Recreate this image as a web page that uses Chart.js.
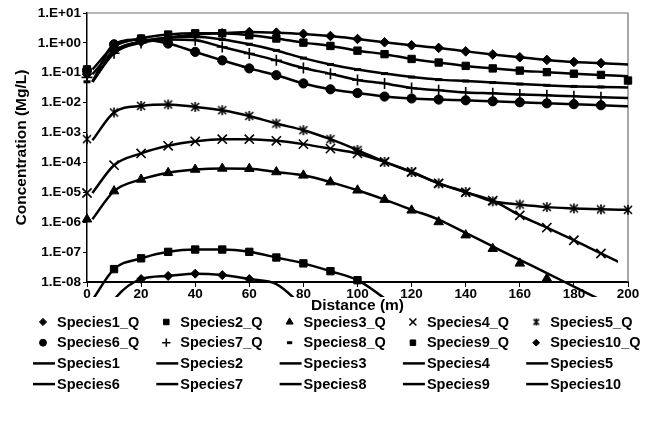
<!DOCTYPE html>
<html lang="en">
<head>
  <meta charset="UTF-8">
  <title>Concentration vs Distance</title>
  <script src="https://cdn.jsdelivr.net/npm/chart.js"></script>
  <style>
    html, body { margin: 0; padding: 0; background: #fff; }
    .wrap { width: 645px; height: 423px; position: relative; }
  </style>
</head>
<body>
  <div class="wrap"><canvas id="chart" width="645" height="423"></canvas></div>

  <script>
    // distances (m) of the measured points and of the model curves
    const distance = [0, 10, 20, 30, 40, 50, 60, 70, 80, 90, 100, 110, 120, 130, 140, 150, 160, 170, 180, 190, 200];
    const modelDistance = [2, 10, 20, 30, 40, 50, 60, 70, 80, 90, 100, 110, 120, 130, 140, 150, 160, 170, 180, 190, 200];

    const yTicks = [1e-8, 1e-7, 1e-6, 1e-5, 1e-4, 1e-3, 1e-2, 1e-1, 1e0, 1e1];
    const yTickLabels = ['1.E-08', '1.E-07', '1.E-06', '1.E-05', '1.E-04', '1.E-03', '1.E-02', '1.E-01', '1.E+00', '1.E+01'];

    const qLabels = ['Species1_Q', 'Species2_Q', 'Species3_Q', 'Species4_Q', 'Species5_Q',
                     'Species6_Q', 'Species7_Q', 'Species8_Q', 'Species9_Q', 'Species10_Q'];
    const modelLabels = ['Species1', 'Species2', 'Species3', 'Species4', 'Species5',
                         'Species6', 'Species7', 'Species8', 'Species9', 'Species10'];

    // measured concentrations (Mg/L)
    const q1 = [0.09, 0.55, 1.1, 1.5, 1.9, 2.1, 2.3, 2.2, 2.0, 1.7, 1.35, 1.05, 0.83, 0.68, 0.52, 0.41, 0.33, 0.27, 0.23, 0.21, null];
    const q2 = [0.13, 0.75, 1.4, 1.9, 2.1, 2.1, 1.8, 1.4, 1.02, 0.79, 0.55, 0.42, 0.29, 0.22, 0.17, 0.14, 0.118, 0.105, 0.093, 0.085, 0.055];
    const q3 = [1.26e-6, 1.1e-5, 2.7e-5, 4.5e-5, 5.8e-5, 6.3e-5, 6.2e-5, 4.8e-5, 3.7e-5, 2.2e-5, 1.17e-5, 5.7e-6, 2.5e-6, 1.02e-6, 3.7e-7, 1.3e-7, 4.2e-8, 1.3e-8, null, null, null];
    const q4 = [9.5e-6, 8.1e-5, 2.0e-4, 3.6e-4, 5.1e-4, 6.0e-4, 6.0e-4, 5.3e-4, 4.1e-4, 2.9e-4, 2.0e-4, 1.04e-4, 4.8e-5, 2.0e-5, 1.0e-5, 5.3e-6, 1.7e-6, 6.6e-7, 2.5e-7, 9.0e-8, null];
    const q5 = [6.0e-4, 4.7e-3, 7.8e-3, 8.7e-3, 7.2e-3, 5.6e-3, 3.6e-3, 2.0e-3, 1.2e-3, 6.0e-4, 2.6e-4, 1.04e-4, 4.8e-5, 2.0e-5, 1.03e-5, 5.0e-6, 3.9e-6, 3.2e-6, 2.9e-6, 2.7e-6, 2.6e-6];
    const q6 = [0.12, 0.9, 1.3, 0.95, 0.5, 0.26, 0.14, 0.083, 0.044, 0.028, 0.021, 0.016, 0.0138, 0.0127, 0.012, 0.0111, 0.0103, 0.0095, 0.0089, 0.0082, null];
    const q7 = [0.07, 0.45, 1.0, 1.3, 1.22, 0.73, 0.44, 0.26, 0.145, 0.093, 0.057, 0.044, 0.031, 0.026, 0.022, 0.0205, 0.0189, 0.0176, 0.0164, 0.0152, null];
    const q8 = [0.05, 0.5, 1.1, 1.5, 1.6, 1.3, 0.9, 0.56, 0.31, 0.19, 0.128, 0.094, 0.072, 0.059, 0.053, 0.047, 0.042, 0.038, 0.035, 0.0335, null];
    const q9 = [null, 2.7e-8, 6.2e-8, 1.02e-7, 1.22e-7, 1.22e-7, 1.02e-7, 6.6e-8, 4.2e-8, 2.3e-8, 1.15e-8, null, null, null, null, null, null, null, null, null, null];
    const q10 = [null, null, 1.25e-8, 1.6e-8, 1.9e-8, 1.7e-8, 1.25e-8, null, null, null, null, null, null, null, null, null, null, null, null, null, null];

    // model curves (Mg/L), on modelDistance
    const m1 = [0.09, 0.55, 1.1, 1.5, 1.9, 2.1, 2.3, 2.2, 2.0, 1.7, 1.35, 1.05, 0.83, 0.68, 0.52, 0.41, 0.33, 0.27, 0.23, 0.21, 0.19];
    const m2 = [0.13, 0.75, 1.4, 1.9, 2.1, 2.1, 1.8, 1.4, 1.02, 0.79, 0.55, 0.42, 0.29, 0.22, 0.17, 0.14, 0.118, 0.105, 0.093, 0.085, 0.077];
    const m3 = [1.26e-6, 1.1e-5, 2.7e-5, 4.5e-5, 5.8e-5, 6.3e-5, 6.2e-5, 4.8e-5, 3.7e-5, 2.2e-5, 1.17e-5, 5.7e-6, 2.6e-6, 1.23e-6, 4.4e-7, 1.55e-7, 5.5e-8, 2.0e-8, 7e-9, 2.5e-9, 9e-10];
    const m4 = [9.5e-6, 8.1e-5, 2.0e-4, 3.6e-4, 5.1e-4, 6.0e-4, 6.0e-4, 5.3e-4, 4.1e-4, 2.9e-4, 2.0e-4, 1.04e-4, 4.8e-5, 2.0e-5, 1.0e-5, 5.3e-6, 1.7e-6, 6.6e-7, 2.5e-7, 9.0e-8, 3.3e-8];
    const m5 = [5.5e-4, 4.7e-3, 7.8e-3, 8.7e-3, 7.2e-3, 5.6e-3, 3.6e-3, 2.0e-3, 1.2e-3, 6.0e-4, 2.6e-4, 1.04e-4, 4.8e-5, 2.0e-5, 1.03e-5, 5.0e-6, 3.9e-6, 3.2e-6, 2.9e-6, 2.7e-6, 2.6e-6];
    const m6 = [0.05, 0.9, 1.3, 0.95, 0.5, 0.26, 0.14, 0.083, 0.044, 0.028, 0.021, 0.016, 0.0138, 0.0127, 0.012, 0.0111, 0.0103, 0.0095, 0.0089, 0.0082, 0.0076];
    const m7 = [0.05, 0.45, 1.0, 1.3, 1.22, 0.73, 0.44, 0.26, 0.145, 0.093, 0.057, 0.044, 0.031, 0.026, 0.022, 0.0205, 0.0189, 0.0176, 0.0164, 0.0152, 0.0144];
    const m8 = [0.05, 0.5, 1.1, 1.5, 1.6, 1.3, 0.9, 0.56, 0.31, 0.19, 0.128, 0.094, 0.072, 0.059, 0.053, 0.047, 0.042, 0.038, 0.035, 0.0335, 0.032];
    const m9 = [2.5e-9, 2.7e-8, 6.2e-8, 1.02e-7, 1.22e-7, 1.22e-7, 1.02e-7, 6.6e-8, 4.2e-8, 2.3e-8, 1.15e-8, 2.8e-9, 5e-10, null, null, null, null, null, null, null, null];
    const m10 = [1e-10, 2.5e-9, 1.25e-8, 1.6e-8, 1.9e-8, 1.7e-8, 1.25e-8, 8.5e-9, 1.5e-9, null, null, null, null, null, null, null, null, null, null, null, null];

    const qSeries = [q1, q2, q3, q4, q5, q6, q7, q8, q9, q10];
    const modelSeries = [m1, m2, m3, m4, m5, m6, m7, m8, m9, m10];

    // Excel style star: an x with a vertical bar through it
    function starMarker(size) {
      const c = document.createElement('canvas');
      c.width = size; c.height = size;
      const g = c.getContext('2d');
      const h = size / 2, r = size / 2 - 1;
      g.strokeStyle = '#000';
      g.lineWidth = 1.6;
      g.beginPath();
      g.moveTo(h - r * 0.8, h - r * 0.8); g.lineTo(h + r * 0.8, h + r * 0.8);
      g.moveTo(h + r * 0.8, h - r * 0.8); g.lineTo(h - r * 0.8, h + r * 0.8);
      g.moveTo(h, h - r); g.lineTo(h, h + r);
      g.stroke();
      return c;
    }

    // marker look of each measured series
    const markerStyles = ['rectRot', 'rect', 'triangle', 'crossRot', starMarker(12), 'circle', 'cross', 'line', 'rect', 'rectRot'];
    const legendStyles = ['rectRot', 'rect', 'triangle', 'crossRot', starMarker(9), 'circle', 'cross', 'line', 'rect', 'rectRot'];
    const markerSizes = [4.8, 5.2, 5.5, 6.5, 6, 4.6, 5.5, 3.5, 5.2, 4.5];
    const markerLines = [1, 1, 1, 1.6, 1.6, 1, 1.6, 3, 1, 1];

    const FONT = '"Liberation Sans", Arial, sans-serif';

    function points(xs, ys) {
      return xs.map((x, i) => ({ x: x, y: ys[i] }));
    }

    const datasets = [];
    qSeries.forEach((vals, i) => {
      datasets.push({
        label: qLabels[i],
        data: points(distance, vals),
        showLine: false,
        pointStyle: markerStyles[i],
        legendStyle: legendStyles[i],
        pointRadius: markerSizes[i],
        pointBorderWidth: markerLines[i],
        pointBackgroundColor: '#000',
        pointBorderColor: '#000',
        borderColor: '#000',
        clip: false
      });
    });
    modelSeries.forEach((vals, i) => {
      datasets.push({
        label: modelLabels[i],
        data: points(modelDistance, vals),
        borderColor: '#000',
        borderWidth: 2.5,
        pointRadius: 0,
        cubicInterpolationMode: 'monotone',
        // species4 curve stops a little short of 200 m
        clip: { left: 2, top: 2, right: i === 3 ? -10 : 2, bottom: 15 }
      });
    });

    // gray frame on top/right of the plot area + 5-column legend underneath
    const frameAndLegend = {
      id: 'frameAndLegend',
      beforeDatasetsDraw(chart) {
        const { ctx, chartArea: a } = chart;
        ctx.save();
        ctx.strokeStyle = '#707070';
        ctx.lineWidth = 1.2;
        ctx.beginPath();
        ctx.moveTo(a.left, a.top);
        ctx.lineTo(a.right, a.top);
        ctx.lineTo(a.right, a.bottom);
        ctx.stroke();
        ctx.restore();
      },
      afterDraw(chart) {
        const ctx = chart.ctx;
        const colLeft = 33, colPitch = 123.3, rowTop = 322, rowGap = 20.7;
        ctx.save();
        ctx.font = 'bold 14.5px ' + FONT;
        ctx.textBaseline = 'middle';
        ctx.fillStyle = '#000';
        ctx.strokeStyle = '#000';
        chart.data.datasets.forEach((ds, i) => {
          const x0 = colLeft + (i % 5) * colPitch;
          const y = rowTop + Math.floor(i / 5) * rowGap;
          if (ds.showLine === false) {
            ctx.lineWidth = ds.pointBorderWidth;
            Chart.helpers.drawPoint(ctx, {
              pointStyle: ds.legendStyle,
              radius: ds.pointRadius * 0.75,
              rotation: 0,
              borderWidth: ds.pointBorderWidth
            }, x0 + 10, y);
          } else {
            ctx.lineWidth = 2.5;
            ctx.beginPath();
            ctx.moveTo(x0, y);
            ctx.lineTo(x0 + 22, y);
            ctx.stroke();
          }
          ctx.fillText(ds.label, x0 + 24, y + 0.5);
        });
        ctx.restore();
      }
    };

    new Chart(document.getElementById('chart'), {
      type: 'line',
      data: { datasets },
      plugins: [frameAndLegend],
      options: {
        responsive: false,
        animation: false,
        events: [],
        layout: { padding: { top: 13, right: 17, bottom: 108, left: 0 } },
        plugins: {
          legend: { display: false },
          tooltip: { enabled: false }
        },
        scales: {
          x: {
            type: 'linear',
            min: 0,
            max: 200,
            ticks: { stepSize: 20, color: '#000', padding: -1, font: { family: FONT, size: 13.5, weight: 'bold' } },
            grid: { drawOnChartArea: false, tickLength: 5, color: '#000', lineWidth: 1 },
            border: { color: '#000', width: 2 },
            title: { display: true, text: 'Distance (m)', color: '#000', padding: 0, font: { family: FONT, size: 15.5, weight: 'bold' } },
            afterFit(scale) { scale.height = 33; }
          },
          y: {
            type: 'logarithmic',
            min: 1e-8,
            max: 10,
            afterBuildTicks(scale) { scale.ticks = yTicks.map(v => ({ value: v })); },
            ticks: {
              color: '#000',
              padding: 2,
              autoSkip: false,
              font: { family: FONT, size: 13.5, weight: 'bold' },
              callback(value) {
                const i = yTicks.findIndex(t => Math.abs(Math.log10(t) - Math.log10(value)) < 1e-6);
                return i >= 0 ? yTickLabels[i] : '';
              }
            },
            grid: { drawOnChartArea: false, tickLength: 4, color: '#000', lineWidth: 1 },
            border: { color: '#000', width: 1.5 },
            title: { display: true, text: 'Concentration (Mg/L)', color: '#000', padding: { top: 12, bottom: 0 }, font: { family: FONT, size: 15.5, weight: 'bold' } },
            afterFit(scale) { scale.width = 87; }
          }
        }
      }
    });
  </script>
</body>
</html>
